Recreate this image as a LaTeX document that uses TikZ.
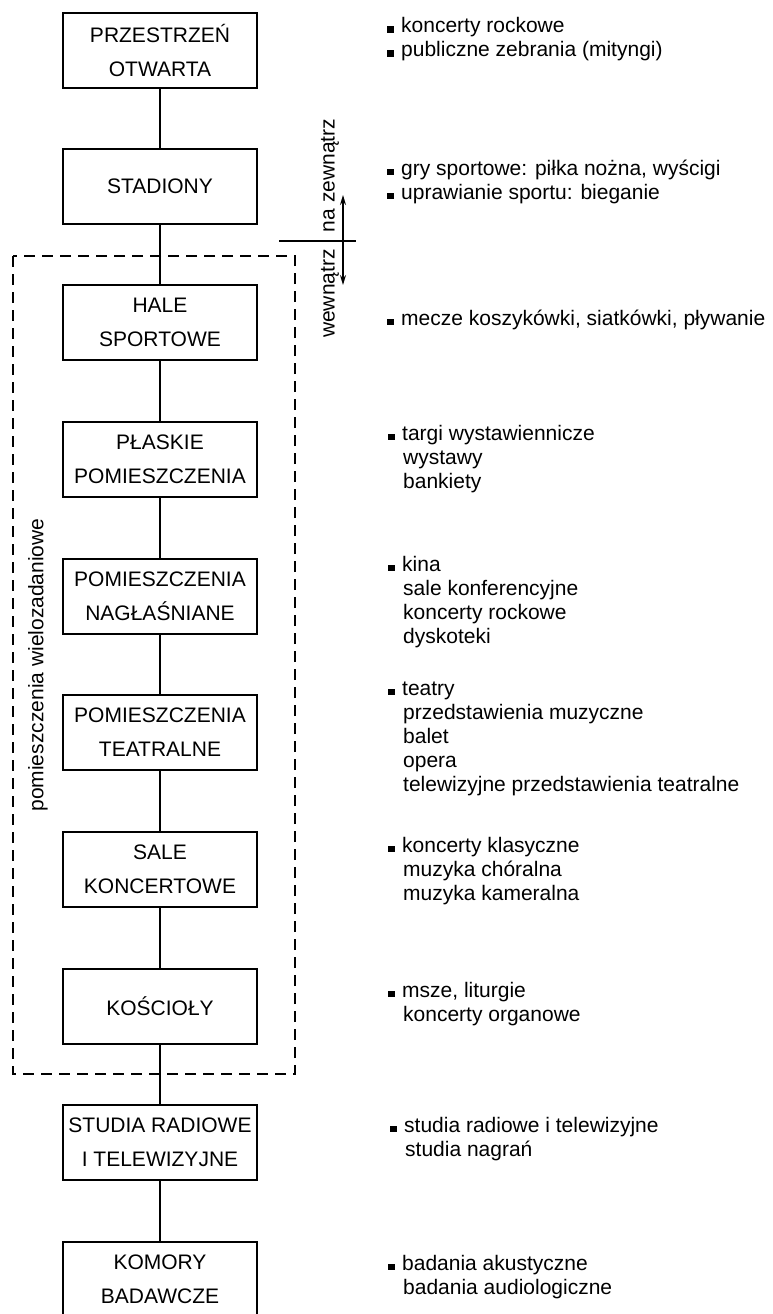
\documentclass[tikz,border=0pt]{standalone}
\usepackage{fontspec}
\setmainfont{Liberation Sans}
\usetikzlibrary{arrows.meta}
\newcommand\fl[1]{\hbox{\makebox[14pt][l]{\rule{6.5pt}{6.5pt}}#1}}
\newcommand\cl[1]{\hbox{\hspace*{15pt}#1}}
\newcommand\blk[1]{\vtop{\baselineskip=24pt\relax #1}}
\tikzset{
  boxnode/.style={draw, line width=1.6pt, minimum width=194pt, minimum height=75pt,
    inner sep=0pt, align=center, font=\fontsize{21}{34}\selectfont},
  txtnode/.style={anchor=base west, inner sep=0pt, font=\fontsize{21}{24}\selectfont},
  rotlabel/.style={rotate=90, inner sep=0pt, font=\fontsize{21}{24}\selectfont},
  conn/.style={line width=1.3pt},
  dashbox/.style={line width=2.6pt, dash pattern=on 11pt off 7pt}
}
\begin{document}
\begin{tikzpicture}[x=1pt,y=-1pt]
\useasboundingbox (0,0) rectangle (772,1314);
\clip (0,0) rectangle (772,1314);
\fill[white] (0,0) rectangle (772,1314);

% boxes
\node[boxnode] (b1) at (160,50.5) {PRZESTRZEŃ\\OTWARTA};
\node[boxnode] (b2) at (160,186.5) {STADIONY};
\node[boxnode] (b3) at (160,322.5) {HALE\\SPORTOWE};
\node[boxnode] (b4) at (160,459.5) {PŁASKIE\\POMIESZCZENIA};
\node[boxnode] (b5) at (160,596.5) {POMIESZCZENIA\\NAGŁAŚNIANE};
\node[boxnode] (b6) at (160,732.5) {POMIESZCZENIA\\TEATRALNE};
\node[boxnode] (b7) at (160,869.5) {SALE\\KONCERTOWE};
\node[boxnode] (b8) at (160,1006.5) {KOŚCIOŁY};
\node[boxnode] (b9) at (160,1142.5) {STUDIA RADIOWE\\I TELEWIZYJNE};
\node[boxnode] (b10) at (160,1279.5) {KOMORY\\BADAWCZE};

% connectors
\draw[conn] (b1) -- (b2);
\draw[conn] (b2) -- (b3);
\draw[conn] (b3) -- (b4);
\draw[conn] (b4) -- (b5);
\draw[conn] (b5) -- (b6);
\draw[conn] (b6) -- (b7);
\draw[conn] (b7) -- (b8);
\draw[conn] (b8) -- (b9);
\draw[conn] (b9) -- (b10);

% dashed group
\draw[dashbox] (13,256) rectangle (295,1074);
\node[rotlabel] (l1) at (38,665) {pomieszczenia wielozadaniowe};

% inside / outside marker
\coordinate (hl) at (279,241);
\coordinate (hr) at (356,241);
\coordinate (au) at (343,195);
\coordinate (ad) at (343,285);
\draw[conn] (hl) -- (hr);
\draw[conn, {Stealth[length=10pt,width=6pt]}-{Stealth[length=10pt,width=6pt]}] (au) -- (ad);
\node[rotlabel] (l2) at (330,175.5) {na zewnątrz};
\node[rotlabel] (l3) at (330,293.5) {wewnątrz};

% descriptions
\node[txtnode] (t1) at (387,33) {\blk{\fl{koncerty rockowe}\fl{publiczne zebrania (mityngi)}}};
\node[txtnode] (t2) at (387,175) {\blk{\fl{gry sportowe: piłka nożna, wyścigi}\fl{uprawianie sportu: bieganie}}};
\node[txtnode] (t3) at (387,325) {\blk{\fl{mecze koszykówki, siatkówki, pływanie}}};
\node[txtnode] (t4) at (388,440) {\blk{\fl{targi wystawiennicze}\cl{wystawy}\cl{bankiety}}};
\node[txtnode] (t5) at (388,571) {\blk{\fl{kina}\cl{sale konferencyjne}\cl{koncerty rockowe}\cl{dyskoteki}}};
\node[txtnode] (t6) at (388,695) {\blk{\fl{teatry}\cl{przedstawienia muzyczne}\cl{balet}\cl{opera}\cl{telewizyjne przedstawienia teatralne}}};
\node[txtnode] (t7) at (388,852) {\blk{\fl{koncerty klasyczne}\cl{muzyka chóralna}\cl{muzyka kameralna}}};
\node[txtnode] (t8) at (388,997) {\blk{\fl{msze, liturgie}\cl{koncerty organowe}}};
\node[txtnode] (t9) at (390,1132) {\blk{\fl{studia radiowe i telewizyjne}\cl{studia nagrań}}};
\node[txtnode] (t10) at (388,1270) {\blk{\fl{badania akustyczne}\cl{badania audiologiczne}}};
\end{tikzpicture}
\end{document}
